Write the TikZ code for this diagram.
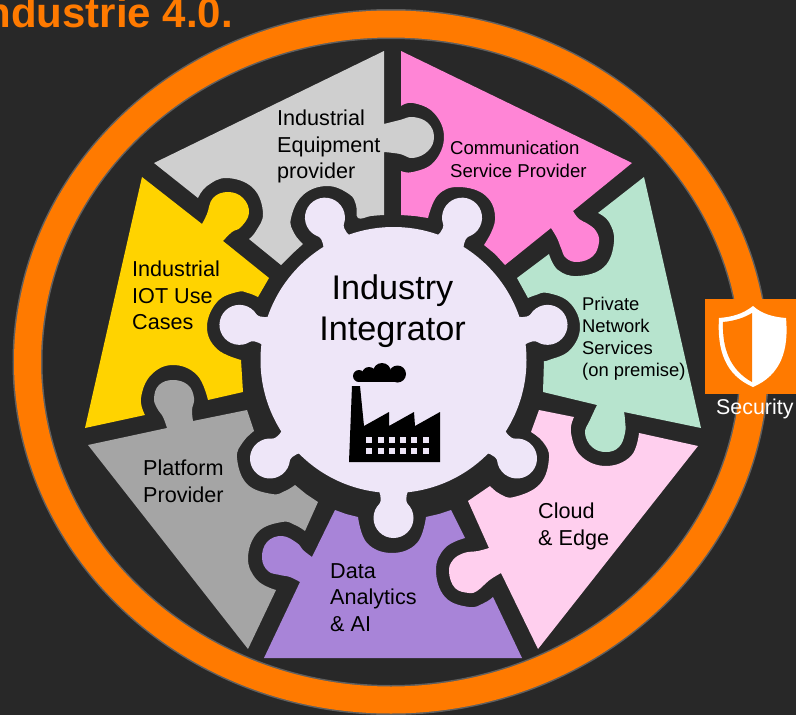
\documentclass[tikz,border=0pt]{standalone}
\usepackage{fontspec}
\setmainfont{Liberation Sans}
\definecolor{bgdark}{HTML}{282828}
\definecolor{ringorange}{HTML}{FF7A00}
\definecolor{ringgray}{HTML}{5F5F5F}
\definecolor{pcequip}{HTML}{CFCFCF}
\definecolor{pccomm}{HTML}{FF85D6}
\definecolor{pcpriv}{HTML}{B7E4CE}
\definecolor{pccloud}{HTML}{FFCFEE}
\definecolor{pcdata}{HTML}{A884D8}
\definecolor{pcplat}{HTML}{A5A5A5}
\definecolor{pciot}{HTML}{FFD300}
\definecolor{hubfill}{HTML}{EEE6F8}
\tikzset{
  piecelabel/.style={inner sep=0pt,anchor=north west,align=left,text=black},
  curve/.style={smooth,tension=0.7},
}
\newcommand{\fs}[2]{\fontsize{#1}{#2}\selectfont}
\begin{document}
\begin{tikzpicture}[x=1pt,y=-1pt]
\useasboundingbox (0,0) rectangle (796,715);
\clip (0,0) rectangle (796,715);
\fill[bgdark] (0,0) rectangle (796,715);
% ring
\draw[ringgray,line width=30pt] (391,362) ellipse [x radius=363.5,y radius=338];
\draw[ringorange,line width=27pt] (391,362) ellipse [x radius=363.5,y radius=338];
% pieces
\fill[pcequip] (384,51) -- plot[curve] coordinates {(384,124)(400,120)(413,117)(428,123)(434,137)(428,151)(413,158)(400,154)(384,152)}
  -- (384,215) -- plot[curve] coordinates {(384,215)(371,216)(358,218)(356,205)(349,194)(327,186)(303,195)(291,218)(294,233)(303,244)}
  -- (292,254) -- (281,265) -- plot[curve] coordinates {(249,239)(256,231)(263,213)(253,188)(227,178)(207,186)(198,198)}
  -- (154,163) -- cycle;
\fill[pccomm] (401,51) -- (632,163) -- plot[curve] coordinates {(573,211)(579,219)(588,224)(596,231)(599,242)(593,256)(578,262)(566,258)(561,248)(557,238)(551,228)}
  -- (505,265) -- (495,254) -- plot[curve] coordinates {(484,245)(495,220)(486,196)(459,187)(438,195)(428,218)}
  -- (415,216) -- (401,215) -- plot[curve] coordinates {(401,171)(413,172)(434,162)(444,137)(434,113)(413,103)(401,106)} -- cycle;
\fill[pcpriv] (644,177) -- (701,428) -- plot[curve] coordinates {(624,412)(625,420)(625,433)(619,447)(606,452)(592,447)(585,433)(590,420)(597,405)}
  -- (543,392) -- plot[curve] coordinates {(544,361)(549,360)(570,350)(580,327)(570,303)(548,293)(536,295)(528,298)}
  -- (517,278) -- plot[curve] coordinates {(549,254)(558,270)(578,276)(604,267)(614,242)(609,222)(598,213)} -- cycle;
\fill[pccloud] (698,446) -- (538,649) -- plot[curve] coordinates {(501,573)(491,579)(484,585)(477,591)(469,593)(455,588)(449,572)(453,560)(464,553)(478,551)(489,548)}
  -- (468,501) -- plot[curve] coordinates {(490,486)(500,494)(514,497)(540,484)(549,458)(543,442)(531,432)}
  -- (539,410) -- plot[curve] coordinates {(574,417)(571,433)(581,456)(606,466)(631,456)(639,433)} -- cycle;
\fill[pcdata] (264,658) -- (522,658) -- plot[curve] coordinates {(493,597)(484,603)(469,607)(445,597)(436,570)(445,548)(465,538)}
  -- (451,510) -- (439,514) -- plot[curve] coordinates {(426,517)(417,543)(392,553)(367,543)(358,517)}
  -- (346,514) -- (335,510) -- plot[curve] coordinates {(312,557)(303,550)(297,543)(282,536)(267,542)(262,558)(268,571)(280,575)(290,577)(300,582)} -- cycle;
\fill[pcplat] (88,445) -- plot[curve] coordinates {(167,428)(163,417)(157,408)(154,398)(159,385)(173,380)(188,385)(194,398)(192,410)(193,421)}
  -- (247,410) -- plot[curve] coordinates {(254,431)(243,442)(237,458)(247,484)(272,494)(285,491)(295,485)}
  -- (306,494) -- (318,502) -- plot[curve] coordinates {(305,531)(295,525)(282,522)(258,532)(248,558)(257,580)(276,590)}
  -- (248,649) -- cycle;
\fill[pciot] (142,177) -- plot[curve] coordinates {(202,224)(207,214)(213,198)(228,192)(243,198)(249,213)(241,227)(232,232)(223,241)}
  -- (269,278) -- plot[curve] coordinates {(258,297)(248,293)(237,292)(217,302)(207,327)(217,349)(241,360)}
  -- (243,392) -- plot[curve] coordinates {(208,400)(197,375)(173,365)(151,375)(141,398)(145,415)}
  -- (85,428) -- cycle;
% hub
\fill[hubfill] (393.5,360) circle [radius=133];
\foreach \k in {0,...,6}{
  \begin{scope}[shift={(393.5,360)},rotate={25.714+51.4286*\k}]
    \fill[hubfill] (-15,-130) .. controls (-12,-137) and (-11,-142) .. (-18,-150) -- (18,-150) .. controls (11,-142) and (12,-137) .. (15,-130) -- cycle;
    \fill[hubfill] (0,-158) circle [radius=20];
  \end{scope}
}
% factory
\fill[black] (352,386) -- (360,386) -- (364,426) -- (389,412) -- (389,426) -- (414,412) -- (415,426) -- (440,412) -- (440,462) -- (349,462) -- cycle;
\foreach \wx in {369,381,392,403,414,426}{
  \foreach \wy in {440,451}{
    \fill[hubfill] (\wx-3,\wy-3) rectangle (\wx+3,\wy+3);
  }
}
\fill[black] (358,372) rectangle (400,382);
\fill[black] (359,376) circle [radius=6];
\fill[black] (369,374) circle [radius=7];
\fill[black] (382,372) circle [radius=9];
\fill[black] (397.5,374) circle [radius=8.5];
% security
\fill[ringorange] (705,299) rectangle (796,394);
\fill[white] (753,306) .. controls (743,314) and (732,317) .. (719,318) .. controls (717,350) and (725,375) .. (753,387) .. controls (781,375) and (789,350) .. (786,318) .. controls (773,317) and (762,314) .. (753,306) -- cycle;
\fill[ringorange] (752,313) .. controls (744,318) and (734,321) .. (723,322) .. controls (722,348) and (730,370) .. (752,382) -- cycle;
% labels
\node[anchor=base east,inner sep=0pt,text=ringorange,font=\bfseries\fontsize{42}{42}\selectfont] (title) at (233,27) {Industrie 4.0.};
\node[piecelabel,font=\fs{21.6}{26.5}] (lequip) at (277,110) {Industrial\\Equipment\\provider};
\node[piecelabel,font=\fs{18.6}{23}] (lcomm) at (450,141) {Communication\\Service Provider};
\node[piecelabel,font=\fs{18.4}{22}] (lpriv) at (582,297) {Private\\Network\\Services\\(on premise)};
\node[piecelabel,font=\fs{21.6}{26.5}] (lcloud) at (538,503) {Cloud\\\& Edge};
\node[piecelabel,font=\fs{21.6}{26.5}] (ldata) at (330,563) {Data\\Analytics\\\& AI};
\node[piecelabel,font=\fs{21.6}{26.5}] (lplat) at (143,460) {Platform\\Provider};
\node[piecelabel,font=\fs{21.6}{26.5}] (liot) at (132,261) {Industrial\\IOT Use\\Cases};
\node[inner sep=0pt,align=center,text=black,font=\fs{34.2}{41}] (lhub) at (392.5,311) {Industry\\Integrator};
\node[inner sep=0pt,anchor=base west,text=white,font=\fs{21.4}{26}] (lsec) at (716,414) {Security};
\end{tikzpicture}
\end{document}
